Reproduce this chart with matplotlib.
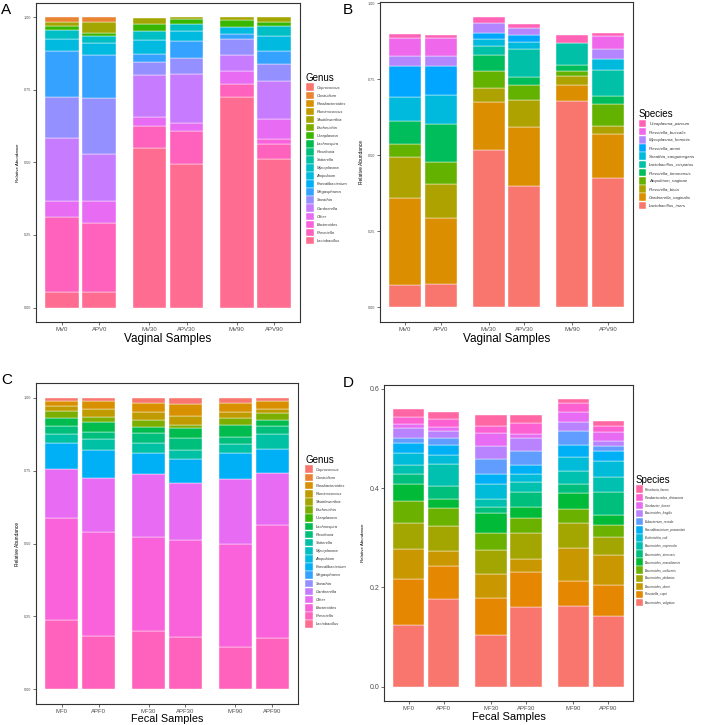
import numpy as np
import matplotlib.pyplot as plt
from matplotlib.patches import Patch

plt.rcParams['font.family'] = 'Liberation Sans'

vag_samples = ['MV0', 'APV0', 'MV30', 'APV30', 'MV90', 'APV90']
fec_samples = ['MF0', 'APF0', 'MF30', 'APF30', 'MF90', 'APF90']

# legend order, top to bottom (the stack is drawn bottom-up from the last one)
genus = ['Coprococcus', 'Clostridium', 'Parabacteroides', 'Ruminococcus',
         'Shuttleworthia', 'Escherichia', 'Ureaplasma', 'Lachnospira',
         'Roseburia', 'Sutterella', 'Mycoplasma', 'Atopobium',
         'Faecalibacterium', 'Megasphaera', 'Sneathia', 'Gardnerella',
         'Other', 'Bacteroides', 'Prevotella', 'Lactobacillus']

vag_genus = [
    [0, 0, 0, 0, 0, 0],
    [.014, .014, 0, 0, 0, 0],
    [0, 0, 0, 0, 0, 0],
    [0, 0, 0, 0, 0, 0],
    [.017, .041, .022, .006, .008, .014],
    [0, 0, 0, 0, 0, 0],
    [.012, .008, .022, .016, .026, .017],
    [0, 0, 0, 0, 0, 0],
    [0, 0, 0, 0, 0, 0],
    [0, 0, 0, 0, 0, 0],
    [.031, .025, .030, .025, 0, .032],
    [.043, .041, .049, .035, .023, .054],
    [0, 0, 0, 0, 0, 0],
    [.158, .147, .029, .057, .017, .044],
    [.141, .194, .046, .057, .055, .059],
    [.217, .163, .143, .168, .057, .130],
    [.055, .077, .031, .029, .045, .068],
    [0, 0, 0, 0, 0, .018],
    [.258, .236, .076, .112, .043, .051],
    [.054, .054, .550, .495, .726, .513],
]

fec_genus = [
    [.011, .011, .019, .023, .017, .011],
    [0, 0, 0, 0, 0, 0],
    [.018, .029, .032, .040, .034, .027],
    [.017, .026, .026, .032, .020, .016],
    [0, 0, 0, 0, 0, 0],
    [.025, .017, .024, .010, .022, .024],
    [0, 0, 0, 0, 0, 0],
    [.026, .035, .022, .032, .041, .021],
    [.029, .025, .034, .042, .024, .027],
    [.031, .036, .032, .030, .031, .049],
    [0, 0, 0, 0, 0, 0],
    [0, 0, 0, 0, 0, 0],
    [.086, .095, .074, .082, .089, .082],
    [0, 0, 0, 0, 0, 0],
    [0, 0, 0, 0, 0, 0],
    [0, 0, 0, 0, 0, 0],
    [.171, .187, .214, .198, .225, .180],
    [.349, .356, .323, .330, .352, .387],
    [.237, .183, .200, .181, .145, .176],
    [0, 0, 0, 0, 0, 0],
]

vag_species = ['Ureaplasma_parvum', 'Prevotella_buccalis', 'Mycoplasma_hominis',
               'Prevotella_amnii', 'Sneathia_sanguinegens', 'Lactobacillus_crispatus',
               'Prevotella_timonensis', 'Atopobium_vaginae', 'Prevotella_bivia',
               'Gardnerella_vaginalis', 'Lactobacillus_iners']
vag_species_ab = [
    [.011, .009, .020, .014, .028, .011],
    [.062, .062, 0, 0, 0, .040],
    [.033, .030, .035, .025, 0, .036],
    [.099, .097, .017, .022, 0, 0],
    [.079, .095, .026, .023, 0, .034],
    [0, 0, .027, .091, .070, .085],
    [.078, .125, .055, .026, .020, .027],
    [.040, .071, .055, .050, .017, .073],
    [.135, .113, .045, .089, .031, .026],
    [.286, .217, .158, .193, .050, .145],
    [.075, .077, .518, .400, .680, .425],
]

fec_species = ['Roseburia_faecis', 'Parabacteroides_distasonis', 'Citrobacter_koseri',
               'Bacteroides_fragilis', 'Eubacterium_rectale', 'Faecalibacterium_prausnitzii',
               'Escherichia_coli', 'Bacteroides_coprocola', 'Bacteroides_stercoris',
               'Bacteroides_massiliensis', 'Bacteroides_uniformis', 'Bacteroides_plebeius',
               'Bacteroides_dorei', 'Prevotella_copri', 'Bacteroides_vulgatus']
fec_species_ab = [
    [.017, .014, .023, .016, .007, .011],
    [.013, .017, .014, .022, .018, .011],
    [.009, .008, .025, .009, .021, .019],
    [.020, .013, .028, .027, .018, .009],
    [.010, .014, .030, .028, .028, .012],
    [.021, .022, .019, .018, .024, .020],
    [.024, .017, .030, .015, .029, .031],
    [.018, .045, .017, .021, .025, .030],
    [.019, .025, .013, .030, .018, .048],
    [.035, .019, .040, .022, .033, .020],
    [.044, .037, .034, .031, .029, .023],
    [.053, .049, .047, .051, .050, .036],
    [.061, .031, .049, .026, .066, .061],
    [.092, .067, .075, .071, .051, .063],
    [.124, .176, .104, .161, .162, .142],
]

# ggplot hue palettes
pal20 = ['#F8766D', '#EA8331', '#D89000', '#C09B00', '#A3A500', '#7CAE00', '#39B600',
         '#00BB4E', '#00BF7D', '#00C1A3', '#00BFC4', '#00BAE0', '#00B0F6', '#35A2FF',
         '#9590FF', '#C77CFF', '#E76BF3', '#FA62DB', '#FF62BC', '#FF6C91']
pal11 = ['#F8766D', '#DB8E00', '#AEA200', '#64B200', '#00BD5C', '#00C1A7',
         '#00BADE', '#00A6FF', '#B385FF', '#EF67EB', '#FF63B6'][::-1]
pal15 = ['#F8766D', '#E58700', '#C99800', '#A3A500', '#6BB100', '#00BA38', '#00BF7D',
         '#00C0AF', '#00BCD8', '#00B0F6', '#619CFF', '#B983FF', '#E76BF3', '#FD61D1',
         '#FF67A4'][::-1]

bar_x = [0, 1, 2.35, 3.35, 4.7, 5.7]
W, H = 701, 725

fig = plt.figure(figsize=(W / 100, H / 100), dpi=100)


def px_axes(l, t, r, b):
    return fig.add_axes([l / W, 1 - b / H, (r - l) / W, (b - t) / H])


def panel(ax, names, rows, colors, samples, xlabel, ylim, yticks, yfmt, ytick_fs, ylab_fs,
          title, leg_xy, leg_fs, hl, hh, ls, xlab_fs=8.5, xlab_pad=1):
    rows = np.array(rows, dtype=float)
    bottom = np.zeros(len(samples))
    for vals, col in zip(rows[::-1], colors[::-1]):
        m = vals > 0
        ax.bar(np.array(bar_x)[m], vals[m], 0.9, bottom=bottom[m], color=col,
               edgecolor='white', linewidth=0.3)
        bottom += vals
    ax.set_xlim(-0.7, 6.4)
    ax.set_ylim(*ylim)
    ax.set_xticks(bar_x)
    ax.set_xticklabels(samples, fontsize=4.3, color='#4D4D4D')
    ax.set_yticks(yticks)
    ax.set_yticklabels([yfmt.format(v) for v in yticks], fontsize=ytick_fs, color='#4D4D4D')
    ax.tick_params(length=2, width=0.5, color='#333333', pad=1.5)
    ax.set_xlabel(xlabel, fontsize=xlab_fs, labelpad=xlab_pad)
    ax.set_ylabel('Relative Abundance', fontsize=ylab_fs, labelpad=3)
    for s in ax.spines.values():
        s.set_color('#333333')
        s.set_linewidth(0.8)
    handles = [Patch(facecolor=c, edgecolor='white', linewidth=0.3) for c in colors]
    leg = ax.legend(handles, names, loc='upper left',
                    bbox_to_anchor=(leg_xy[0] / W, 1 - leg_xy[1] / H),
                    bbox_transform=fig.transFigure, frameon=False, title=title,
                    fontsize=leg_fs, title_fontsize=7, borderpad=0, borderaxespad=0,
                    handlelength=hl, handleheight=hh, labelspacing=ls,
                    handletextpad=0.7, alignment='left')
    for t in leg.get_texts():
        t.set_fontstyle('italic')
        t.set_color('#333333')


axA = px_axes(36, 3, 300, 322)
panel(axA, genus, vag_genus, pal20, vag_samples, 'Vaginal Samples', (-0.05, 1.05),
      [0, 0.25, 0.5, 0.75, 1.0], '{:.2f}', 2.7, 3.2,
      'Genus', (306, 73), 2.9, 1.9, 2.52, 0.12)

axB = px_axes(380, 2, 633, 322)
panel(axB, vag_species, vag_species_ab, pal11, vag_samples, 'Vaginal Samples', (-0.048, 1.004),
      [0, 0.25, 0.5, 0.75, 1.0], '{:.2f}', 2.7, 3.5,
      'Species', (639, 109), 3.2, 1.6, 2.23, 0.15)

axC = px_axes(36, 383, 298, 704)
panel(axC, genus, fec_genus, pal20, fec_samples, 'Fecal Samples', (-0.05, 1.05),
      [0, 0.25, 0.5, 0.75, 1.0], '{:.2f}', 2.7, 3.5,
      'Genus', (305, 455), 2.9, 1.9, 2.55, 0.12, xlab_fs=7.8, xlab_pad=0.3)

axD = px_axes(384, 385, 633, 701)
panel(axD, fec_species, fec_species_ab, pal15, fec_samples, 'Fecal Samples', (-0.029, 0.608),
      [0, 0.2, 0.4, 0.6], '{:.1f}', 5, 3.2,
      'Species', (636, 475), 2.3, 2.1, 3.29, 0.15, xlab_fs=8, xlab_pad=1)

for lab, x, y in [('A', 1, 10), ('B', 343, 10), ('C', 1, 380), ('D', 343, 383)]:
    fig.text(x / W, 1 - y / H, lab, fontsize=11, va='center', ha='left')

fig.savefig('out.png', dpi=100)
